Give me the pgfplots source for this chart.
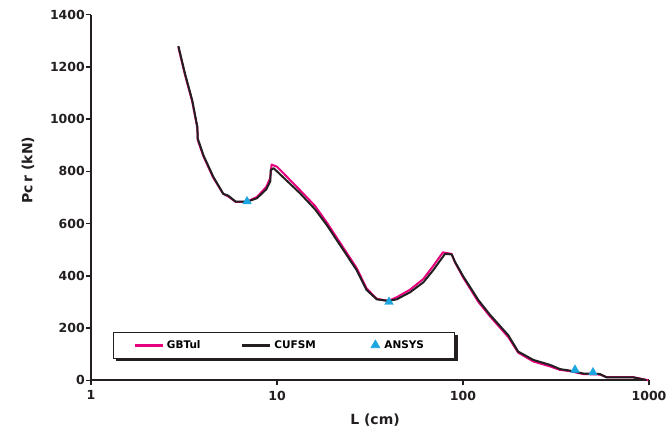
\documentclass[border=0pt]{standalone}
\usepackage{fontspec}
\setmainfont{DejaVu Sans}
\usepackage{pgfplots}
\pgfplotsset{compat=1.18}
\usetikzlibrary{backgrounds}

\definecolor{gbtpink}{HTML}{E6007E}
\definecolor{cufblack}{HTML}{231F20}
\definecolor{ansblue}{HTML}{1BA6E0}

\pgfplotsset{
    legline/.style={legend image code/.code={%
        \draw[##1, line width=3pt] (0pt,0pt) -- (28pt,0pt);
        \path[draw=none, fill=none] (0pt,0pt) -- (32pt,0pt);}},
    legmark/.style={legend image code/.code={%
        \path[draw=none, fill=none] (0pt,0pt) -- (14pt,0pt);
        \draw[##1] plot coordinates {(5pt,0pt)};}},
}

\begin{document}
\begin{tikzpicture}
\useasboundingbox (-91pt,-50.7pt) rectangle (580pt,380.3pt);
\begin{axis}[
    scale only axis,
    width=558pt, height=365.6pt,
    xmode=log,
    xmin=1, xmax=1000,
    ymin=0, ymax=1400,
    axis lines*=left,
    axis line style={line width=1.8pt, cufblack, -},
    xtick={1,10,100,1000},
    xticklabels={1,10,100,1000},
    ytick={0,200,...,1400},
    yticklabels={0,200,400,600,800,1000,1200,1400},
    xminorticks=false,
    tick align=outside,
    major tick length=5pt,
    tick style={line width=1.5pt, cufblack},
    ticklabel style={font=\bfseries\fontsize{12.5}{14}\selectfont, text=cufblack},
    yticklabel style={inner sep=1pt},
    xticklabel style={yshift=-2pt},
    xlabel={L (cm)},
    ylabel={Pc\,r (kN)},
    label style={font=\bfseries\fontsize{14}{16}\selectfont, text=cufblack},
    xlabel style={at={(axis description cs:0.509,-0.109)}, anchor=center},
    ylabel style={at={(axis description cs:-0.113,0.575)}, anchor=center},
    clip=false,
    legend columns=3,
    legend style={
        name=leg,
        at={(0.0394,0.132)}, anchor=north west,
        draw=cufblack, line width=0.8pt, fill=white,
        font=\bfseries\fontsize{10.5}{12}\selectfont,
        inner xsep=20pt, inner ysep=6pt,
        nodes={inner xsep=0pt},
        /tikz/every even column/.style={column sep=0pt},
        /tikz/every odd column/.style={column sep=0pt},
    },
    legend cell align=left,
]
% GBTul
\addplot[gbtpink, line width=2pt, line join=round, legline]
coordinates {
(2.95,1275) (3.2,1170) (3.5,1068) (3.73,966) (3.75,920) (4.02,858)
(4.54,776) (5.14,714) (5.47,704) (6.0,683) (6.9,684) (7.8,702)
(8.75,740) (9.2,775) (9.35,826) (10,818) (13.3,728) (16,668)
(18.5,605) (26.8,430) (30.3,352) (34.4,312) (39.7,304) (44,318)
(51.9,347) (61.2,388) (69.2,438) (78,490) (86.9,484) (90.5,452)
(100.5,392) (109,352) (121,300) (140,244) (175,166) (198,106)
(239,72) (294,53) (332,40) (376,35) (443,24) (545,22)
(592,12) (824,12) (990,0)
};
% CUFSM
\addplot[cufblack, line width=2pt, line join=round, legline]
coordinates {
(2.95,1280) (3.2,1175) (3.5,1073) (3.73,971) (3.75,926) (4.02,862)
(4.54,780) (5.14,714) (5.47,707) (6.0,684) (6.9,684) (7.8,697)
(8.75,731) (9.2,762) (9.25,805) (9.6,812) (13.3,716) (16,655)
(18.5,595) (26.8,422) (30.3,346) (34.4,310) (39.7,304) (44,310)
(51.9,337) (61.2,375) (69.2,422) (80,484) (86.9,482) (90.5,454)
(100.5,397) (109,358) (121,307) (140,250) (175,173) (198,110)
(239,78) (294,59) (332,43) (376,37) (443,26) (545,24)
(592,11) (824,11) (970,1)
};
% ANSYS
\addplot[only marks, mark=triangle*, mark size=5pt,
    mark options={fill=ansblue, draw=ansblue}, legmark]
coordinates {(6.9,685) (40,300) (400,40) (500,30)};
\legend{\makebox[74pt][l]{GBTul}, \makebox[96pt][l]{CUFSM}, \makebox[50pt][l]{ANSYS}}
\end{axis}
\begin{scope}[on background layer]
\fill[cufblack] ([shift={(3pt,-3pt)}]leg.south west) rectangle ([shift={(3pt,-3pt)}]leg.north east);
\end{scope}
\end{tikzpicture}
\end{document}
